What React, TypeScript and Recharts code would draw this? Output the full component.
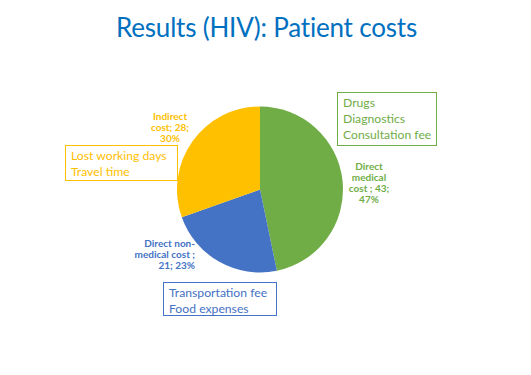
import React from "react";
import { PieChart, Pie, Cell } from "recharts";

const categories = ["Direct medical cost", "Direct non-medical cost", "Indirect cost"];
const values = [43, 21, 28];
const percents = ["47%", "23%", "30%"];
const colors = ["#70AD47", "#4472C4", "#FFC000"];
const labelLines = [
  ["Direct", "medical", "cost  ; 43;", "47%"],
  ["Direct non-", "medical cost ;", "21; 23%"],
  ["Indirect", "cost; 28;", "30%"],
];
const boxLines = [
  ["Drugs", "Diagnostics", "Consultation fee"],
  ["Transportation fee", "Food expenses"],
  ["Lost working days", "Travel time"],
];

const data = categories.map((name, i) => ({ name, value: values[i], pct: percents[i] }));

const FONT = "Lato, 'Open Sans', sans-serif";

// label placement relative to the pie centre
const labelOffsets = [
  { dx: 109, dy: -20, anchor: "middle" },
  { dx: -65, dy: 57, anchor: "end" },
  { dx: -90, dy: -70, anchor: "middle" },
];

const renderLabel = (props: any) => {
  const { cx, cy, index } = props;
  const o = labelOffsets[index];
  const lines = labelLines[index];
  return (
    <text
      x={cx + o.dx}
      y={cy + o.dy}
      textAnchor={o.anchor}
      fill={colors[index]}
      fontFamily={FONT}
      fontWeight="bold"
      fontSize={10}
    >
      {lines.map((l, k) => (
        <tspan key={k} x={cx + o.dx} dy={k === 0 ? 0 : 11}>
          {l}
        </tspan>
      ))}
    </text>
  );
};

const boxStyles: React.CSSProperties[] = [
  { left: 337, top: 92, width: 100, height: 54 },
  { left: 163, top: 282, width: 114, height: 34 },
  { left: 65, top: 145, width: 113, height: 36 },
];

export default function App() {
  return (
    <div style={{ position: "absolute", left: 0, top: 0, width: 531, height: 375, background: "#fff", fontFamily: FONT }}>
      <div
        style={{
          position: "absolute",
          left: 0,
          top: 10,
          width: 533,
          textAlign: "center",
          color: "#0070C0",
          fontSize: 26,
          letterSpacing: -0.2,
          lineHeight: "34px",
        }}
      >
        Results (HIV): Patient costs
      </div>
      <PieChart
        width={531}
        height={375}
        margin={{ top: 0, right: 0, bottom: 0, left: 0 }}
        style={{ position: "absolute", left: 0, top: 0 }}
      >
        <Pie
          data={data}
          dataKey="value"
          nameKey="name"
          cx={260}
          cy={189.5}
          outerRadius={83}
          startAngle={90}
          endAngle={-270}
          stroke="none"
          label={renderLabel}
          labelLine={false}
          isAnimationActive={false}
        >
          {data.map((d, i) => (
            <Cell key={d.name} fill={colors[i]} />
          ))}
        </Pie>
      </PieChart>
      {boxLines.map((lines, i) => (
        <div
          key={i}
          style={{
            position: "absolute",
            boxSizing: "border-box",
            border: `1px solid ${colors[i]}`,
            color: colors[i],
            fontSize: 12.2,
            lineHeight: "16px",
            padding: "2px 5px",
            ...boxStyles[i],
          }}
        >
          {lines.map((l, k) => (
            <div key={k} style={{ whiteSpace: "nowrap" }}>{l}</div>
          ))}
        </div>
      ))}
    </div>
  );
}
